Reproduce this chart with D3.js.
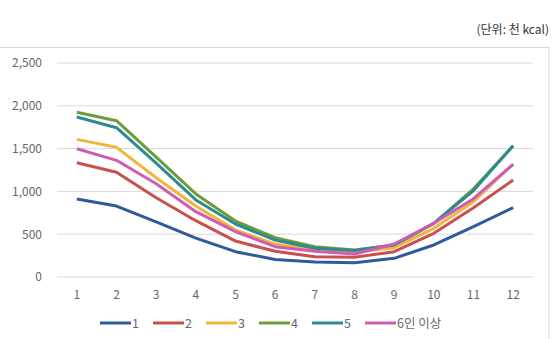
<!DOCTYPE html>
<html><head><meta charset="utf-8">
<script src="https://cdn.jsdelivr.net/npm/d3@7"></script>
<style>body{margin:0;background:#fff}svg{display:block}</style>
</head><body>
<script>
const months = ["1","2","3","4","5","6","7","8","9","10","11","12"];
const seriesNames = ["1","2","3","4","5","6인 이상"];
const s1 = [911, 829, 645, 455, 296, 205, 175, 167, 218, 374, 588, 810];
const s2 = [1335, 1223, 925, 658, 420, 300, 237, 230, 296, 510, 810, 1133];
const s3 = [1608, 1515, 1160, 830, 549, 385, 315, 288, 343, 569, 880, 1320];
const s4 = [1924, 1826, 1400, 970, 654, 460, 354, 315, 374, 627, 1030, 1534];
const s5 = [1869, 1744, 1330, 900, 619, 432, 335, 310, 374, 627, 1010, 1534];
const s6 = [1499, 1363, 1090, 763, 530, 354, 300, 269, 385, 627, 915, 1316];
const yTicks = [0, 500, 1000, 1500, 2000, 2500];
const colors = ["#2f5b9a", "#c9504e", "#f0b63a", "#6a9e3a", "#2d8a92", "#cf5cb4"];
const unitLabel = "(단위: 천 kcal)";

const W = 553, H = 339;
const svg = d3.select("body").append("svg").attr("width", W).attr("height", H);
const font = "'Noto Sans CJK KR', 'Noto Sans', sans-serif";

svg.append("text").attr("x", 549).attr("y", 34).attr("text-anchor", "end")
  .attr("font-family", font).attr("font-size", 12).attr("fill", "#333").text(unitLabel);

svg.append("rect").attr("x", -1).attr("y", 47.5).attr("width", 550).attr("height", 300)
  .attr("fill", "none").attr("stroke", "#d9d9d9");

const x = d3.scaleBand().domain(months).range([57, 533]);
const y = d3.scaleLinear().domain([0, 2500]).range([277, 63]);

const grid = svg.append("g");
yTicks.forEach(t => {
  grid.append("line").attr("x1", 57).attr("x2", 533).attr("y1", y(t)).attr("y2", y(t))
    .attr("stroke", "#d9d9d9").attr("stroke-width", 1);
});

const yAxis = svg.append("g").attr("transform", "translate(57,0)")
  .call(d3.axisLeft(y).tickValues(yTicks).tickFormat(d3.format(",")).tickSize(0).tickPadding(15));
yAxis.select(".domain").remove();
yAxis.selectAll("text").attr("font-family", font).attr("font-size", 12).attr("fill", "#666");

const xAxis = svg.append("g").attr("transform", "translate(0,277)")
  .call(d3.axisBottom(x).tickSize(0).tickPadding(13));
xAxis.select(".domain").remove();
xAxis.selectAll("text").attr("font-family", font).attr("font-size", 12).attr("fill", "#666");

const all = [s1, s2, s3, s4, s5, s6];
const line = d3.line().x((d, i) => x(months[i]) + x.bandwidth() / 2).y(d => y(d));
const order = [0, 1, 3, 2, 4, 5];
order.forEach(k => {
  svg.append("path").datum(all[k]).attr("d", line).attr("fill", "none")
    .attr("stroke", colors[k]).attr("stroke-width", 3).attr("stroke-linejoin", "round");
});

const lg = svg.append("g");
seriesNames.forEach((n, i) => {
  const lx = 100 + i * 53;
  lg.append("line").attr("x1", lx).attr("x2", lx + 31).attr("y1", 323).attr("y2", 323)
    .attr("stroke", colors[i]).attr("stroke-width", 3);
  lg.append("text").attr("x", lx + 32).attr("y", 327.5).attr("font-family", font)
    .attr("font-size", 12.5).attr("fill", "#666").text(n);
});
</script>
</body></html>
